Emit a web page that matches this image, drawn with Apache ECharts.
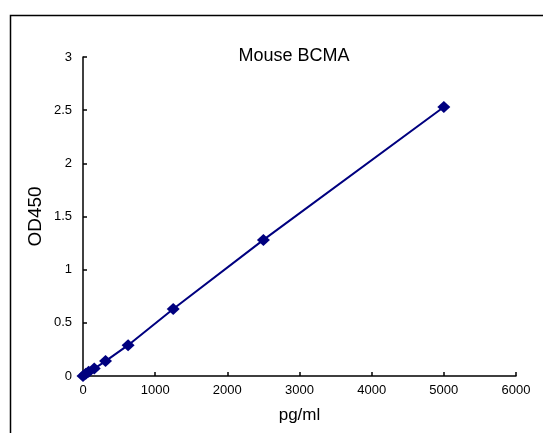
<!DOCTYPE html>
<html><head><meta charset="utf-8">
<script src="https://cdn.jsdelivr.net/npm/echarts@6/dist/echarts.min.js"></script>
<style>html,body{margin:0;padding:0;background:#fff}#c{width:543px;height:433px}</style>
</head><body><div id="c"></div>
<script>
var concentrations = [0, 39, 78, 156, 312.5, 625, 1250, 2500, 5000];
var od450 = [0, 0.02, 0.04, 0.07, 0.14, 0.29, 0.63, 1.28, 2.53];
var titleText = 'Mouse BCMA';
var xName = 'pg/ml';
var yName = 'OD450';

var chart = echarts.init(document.getElementById('c'), null, {renderer: 'canvas'});
var pts = concentrations.map(function (x, i) { return [x, od450[i]]; });
chart.setOption({
  animation: false,
  backgroundColor: '#fff',
  title: {
    text: titleText, left: 289, top: 42, textAlign: 'center',
    textStyle: {fontFamily: 'Liberation Sans', fontSize: 18, fontWeight: 'normal', color: '#000'}
  },
  graphic: [{
    type: 'rect', shape: {x: 10.5, y: 15.5, width: 600, height: 500},
    style: {fill: 'none', stroke: '#000', lineWidth: 1.5}, silent: true, z: -1
  }],
  grid: {left: 83, right: 27, top: 57, bottom: 57, containLabel: false},
  xAxis: {
    type: 'value', min: 0, max: 6000, interval: 1000,
    name: xName, nameLocation: 'middle', nameGap: 31, nameMoveOverlap: false,
    nameTextStyle: {fontFamily: 'Liberation Sans', fontSize: 17, color: '#000'},
    axisLine: {show: true, lineStyle: {color: '#000', width: 1.5}},
    axisTick: {show: true, inside: true, length: 4, lineStyle: {color: '#000', width: 1.5}},
    axisLabel: {fontFamily: 'Liberation Sans', fontSize: 13, color: '#000', margin: 8,
      formatter: function (v) { return String(v); }},
    splitLine: {show: false}
  },
  yAxis: {
    type: 'value', min: 0, max: 3, interval: 0.5,
    name: yName, nameLocation: 'middle', nameGap: 38, nameRotate: 90, nameMoveOverlap: false,
    nameTextStyle: {fontFamily: 'Liberation Sans', fontSize: 19, color: '#000'},
    axisLine: {show: true, lineStyle: {color: '#000', width: 1.5}},
    axisTick: {show: true, inside: true, length: 4, lineStyle: {color: '#000', width: 1.5}},
    axisLabel: {fontFamily: 'Liberation Sans', fontSize: 13, color: '#000', margin: 11,
      formatter: function (v) { return String(v); }},
    splitLine: {show: false}
  },
  series: [{
    type: 'line', data: pts, symbol: 'diamond', symbolSize: [13, 12],
    itemStyle: {color: '#00007f'},
    lineStyle: {color: '#00007f', width: 2}
  }]
});
</script></body></html>
